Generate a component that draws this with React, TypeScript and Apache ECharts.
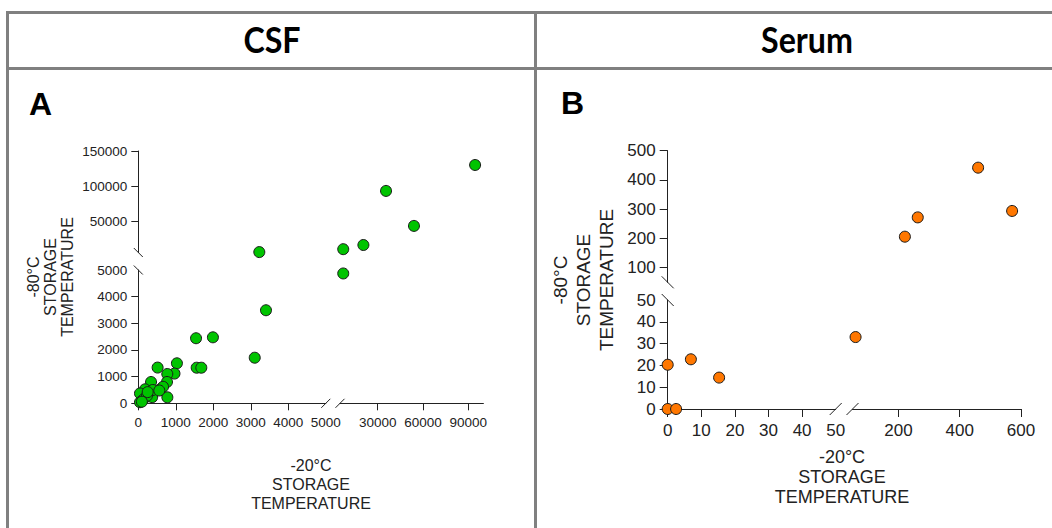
import React, { useEffect, useRef } from "react";
import * as echarts from "echarts";

// ---------- DATA ----------
const csfX = [1540, 1990, 1557, 1680, 1030, 965, 515, 773, 765, 775, 340, 350, 370, 580, 660, 180, 45, 130, 45, 3105, 3405, 385, 230, 560, 95, 250, 3227, 7150, 7150, 20500, 54000, 35500, 94500];
const csfY = [2440, 2475, 1335, 1335, 1500, 1115, 1340, 1100, 800, 225, 800, 460, 230, 520, 620, 525, 370, 140, 40, 1710, 3490, 500, 280, 480, 60, 420, 5600, 4870, 9750, 15700, 43000, 93000, 130000];

const serumX = [0, 0, 2.5, 6.9, 15.3, 60, 221, 263, 460, 571];
const serumY = [20.3, 0, 0, 22.8, 14.4, 33, 206, 272, 442, 294];

const csfXLowerTicks = [0, 1000, 2000, 3000, 4000];
const csfXLowerLabels = [0, 1000, 2000, 3000, 4000, 5000];
const csfXUpperTicks = [30000, 60000, 90000];
const csfYLowerTicks = [0, 1000, 2000, 3000, 4000];
const csfYLowerLabels = [0, 1000, 2000, 3000, 4000, 5000];
const csfYUpperTicks = [50000, 100000, 150000];

const serumXLowerTicks = [0, 10, 20, 30, 40];
const serumXLowerLabels = [0, 10, 20, 30, 40, 50];
const serumXUpperTicks = [200, 400, 600];
const serumYLowerTicks = [0, 10, 20, 30, 40];
const serumYLowerLabels = [0, 10, 20, 30, 40, 50];
const serumYUpperTicks = [100, 200, 300, 400, 500];

const panelTitles = ["CSF", "Serum"];
const panelLetters = ["A", "B"];
const yNameText = "-80°C\nSTORAGE\nTEMPERATURE";
const xNameText = "-20°C\nSTORAGE\nTEMPERATURE";

// ---------- LAYOUT ----------
type Seg = { min: number; max: number; start: number; size: number; ticks: number[]; labels: number[] };
type Panel = {
  xs: number[];
  ys: number[];
  xSegs: Seg[];
  ySegs: Seg[];
  color: string;
  fontSize: number;
  tickLen: number;
  xMargin: number;
  yMargin: number;
  slash: number;
  symbolSize: number;
};

const panels: Panel[] = [
  {
    xs: csfX,
    ys: csfY,
    xSegs: [
      { min: 0, max: 5000, start: 138.3, size: 187.5, ticks: csfXLowerTicks, labels: csfXLowerLabels },
      { min: 5000, max: 100000, start: 340, size: 143.4, ticks: csfXUpperTicks, labels: csfXUpperTicks },
    ],
    ySegs: [
      { min: 0, max: 5000, start: 270, size: 133.3, ticks: csfYLowerTicks, labels: csfYLowerLabels },
      { min: 5000, max: 150000, start: 151, size: 101.5, ticks: csfYUpperTicks, labels: csfYUpperTicks },
    ],
    color: "#00c400",
    fontSize: 13.5,
    tickLen: 7,
    xMargin: 12,
    yMargin: 11,
    slash: 4.5,
    symbolSize: 11,
  },
  {
    xs: serumX,
    ys: serumY,
    xSegs: [
      { min: 0, max: 50, start: 667.7, size: 168, ticks: serumXLowerTicks, labels: serumXLowerLabels },
      { min: 50, max: 600, start: 852.5, size: 168.5, ticks: serumXUpperTicks, labels: serumXUpperTicks },
    ],
    ySegs: [
      { min: 0, max: 50, start: 300, size: 109, ticks: serumYLowerTicks, labels: serumYLowerLabels },
      { min: 50, max: 500, start: 150.7, size: 131.6, ticks: serumYUpperTicks, labels: serumYUpperTicks },
    ],
    color: "#ff7700",
    fontSize: 17,
    tickLen: 8,
    xMargin: 13,
    yMargin: 12,
    slash: 6,
    symbolSize: 11,
  },
];

const AXIS_COLOR = "#222";
const BORDER = "#808080";
const FONT = "'Liberation Sans', Arial, sans-serif";

function buildOption() {
  const grid: any[] = [];
  const xAxis: any[] = [];
  const yAxis: any[] = [];
  const series: any[] = [];
  const graphic: any[] = [];

  panels.forEach((p) => {
    p.xSegs.forEach((xs, i) => {
      p.ySegs.forEach((ys, j) => {
        const gi = grid.length;
        grid.push({
          left: xs.start,
          top: ys.start,
          width: xs.size,
          height: ys.size,
          outerBoundsMode: "none",
          containLabel: false,
        });
        const common = {
          type: "value",
          gridIndex: gi,
          splitLine: { show: false },
          axisLine: { show: true, onZero: false, lineStyle: { color: AXIS_COLOR, width: 1 } },
        };
        xAxis.push({
          ...common,
          min: xs.min,
          max: xs.max,
          show: j === 0,
          axisTick: { show: true, length: p.tickLen, customValues: xs.ticks, lineStyle: { color: AXIS_COLOR } },
          axisLabel: {
            customValues: xs.labels,
            fontSize: p.fontSize,
            fontFamily: FONT,
            color: AXIS_COLOR,
            margin: p.xMargin,
            formatter: (v: number) => String(v),
          },
        });
        yAxis.push({
          ...common,
          min: ys.min,
          max: ys.max,
          show: i === 0,
          axisTick: { show: true, length: p.tickLen, customValues: ys.ticks, lineStyle: { color: AXIS_COLOR } },
          axisLabel: {
            customValues: ys.labels,
            fontSize: p.fontSize,
            fontFamily: FONT,
            color: AXIS_COLOR,
            margin: p.yMargin,
            formatter: (v: number) => String(v),
          },
        });
        const data: number[][] = [];
        p.xs.forEach((x, k) => {
          const y = p.ys[k];
          const xi = x <= p.xSegs[0].max ? 0 : 1;
          const yj = y <= p.ySegs[0].max ? 0 : 1;
          if (xi === i && yj === j) data.push([x, y]);
        });
        series.push({
          type: "scatter",
          xAxisIndex: gi,
          yAxisIndex: gi,
          data,
          symbolSize: p.symbolSize,
          clip: false,
          itemStyle: { color: p.color, borderColor: "#1a1a1a", borderWidth: 1, opacity: 1 },
          z: 5,
        });
      });
    });

    // break slashes
    const s = p.slash;
    const xAxisY = p.ySegs[0].start + p.ySegs[0].size;
    const yAxisX = p.xSegs[0].start;
    const xBreaks = [p.xSegs[0].start + p.xSegs[0].size, p.xSegs[1].start];
    const yBreaks = [p.ySegs[0].start, p.ySegs[1].start + p.ySegs[1].size];
    xBreaks.forEach((cx) => {
      graphic.push({
        type: "line",
        shape: { x1: cx - s, y1: xAxisY + s, x2: cx + s, y2: xAxisY - s },
        style: { stroke: AXIS_COLOR, lineWidth: 1 },
        z: 10,
      });
    });
    yBreaks.forEach((cy) => {
      graphic.push({
        type: "line",
        shape: { x1: yAxisX - s, y1: cy - s, x2: yAxisX + s, y2: cy + s },
        style: { stroke: AXIS_COLOR, lineWidth: 1 },
        z: 10,
      });
    });
  });

  // table borders
  const lines = [
    [6, 12.5, 1052, 12.5],
    [6, 68.5, 1052, 68.5],
    [7.5, 11, 7.5, 528],
    [535.5, 11, 535.5, 528],
  ];
  lines.forEach(([x1, y1, x2, y2]) => {
    graphic.push({
      type: "line",
      shape: { x1, y1, x2, y2 },
      style: { stroke: BORDER, lineWidth: 3 },
      z: 1,
    });
  });

  // titles
  const titlePos = [
    [272, 39],
    [807, 39],
  ];
  panelTitles.forEach((t, k) => {
    graphic.push({
      type: "text",
      x: titlePos[k][0],
      y: titlePos[k][1],
      scaleX: 0.87,
      style: {
        text: t,
        align: "center",
        verticalAlign: "middle",
        fontSize: 37,
        fontWeight: "bold",
        fontFamily: "Lato, 'Open Sans', sans-serif",
        fill: "#000",
      },
    });
  });

  const letterPos = [
    [29, 104],
    [561, 103],
  ];
  panelLetters.forEach((t, k) => {
    graphic.push({
      type: "text",
      x: letterPos[k][0],
      y: letterPos[k][1],
      style: {
        text: t,
        align: "left",
        verticalAlign: "middle",
        fontSize: 32,
        fontWeight: "bold",
        fontFamily: FONT,
        fill: "#000",
      },
    });
  });

  // axis names
  const yNames = [
    { x: 50, y: 277, fs: 16, lh: 17 },
    { x: 583, y: 280, fs: 19, lh: 23 },
  ];
  yNames.forEach((n) => {
    graphic.push({
      type: "text",
      x: n.x,
      y: n.y,
      rotation: Math.PI / 2,
      style: {
        text: yNameText,
        align: "center",
        verticalAlign: "middle",
        fontSize: n.fs,
        lineHeight: n.lh,
        fontFamily: FONT,
        fill: "#222",
      },
    });
  });
  const xNames = [
    { x: 311, y: 484, fs: 16, lh: 19 },
    { x: 842, y: 477, fs: 18, lh: 20 },
  ];
  xNames.forEach((n) => {
    graphic.push({
      type: "text",
      x: n.x,
      y: n.y,
      style: {
        text: xNameText,
        align: "center",
        verticalAlign: "middle",
        fontSize: n.fs,
        lineHeight: n.lh,
        fontFamily: FONT,
        fill: "#222",
      },
    });
  });

  return {
    animation: false,
    backgroundColor: "#fff",
    grid,
    xAxis,
    yAxis,
    series,
    graphic,
  };
}

export default function App() {
  const ref = useRef<HTMLDivElement>(null);
  useEffect(() => {
    if (!ref.current) return;
    const chart = echarts.init(ref.current, undefined, { renderer: "svg" });
    chart.setOption(buildOption() as any);
    return () => chart.dispose();
  }, []);
  return (
    <div
      ref={ref}
      style={{ position: "fixed", left: 0, top: 0, width: 1052, height: 528, background: "#fff" }}
    />
  );
}
